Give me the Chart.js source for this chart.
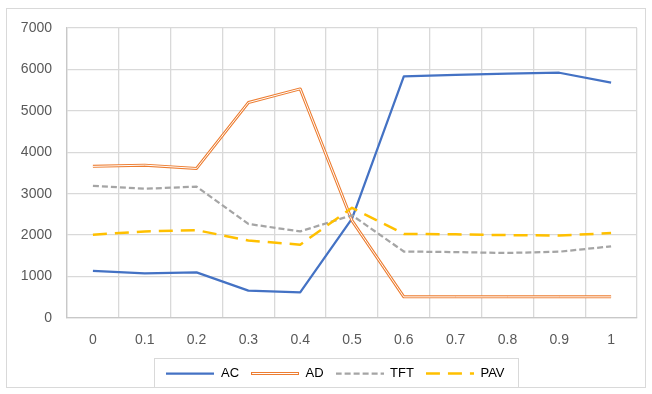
<!DOCTYPE html>
<html>
<head>
<meta charset="utf-8">
<script src="https://cdn.jsdelivr.net/npm/chart.js@4"></script>
<style>
  html, body { margin: 0; padding: 0; background: #fff; }
  #wrap { width: 652px; height: 394px; }
</style>
</head>
<body>
<div id="wrap"><canvas id="chart1" width="652" height="394"></canvas></div>
<script>
const categories = ['0', '0.1', '0.2', '0.3', '0.4', '0.5', '0.6', '0.7', '0.8', '0.9', '1'];
const acValues  = [1140, 1080, 1100, 660, 620, 2400, 5830, 5870, 5900, 5920, 5680];
const adValues  = [3660, 3690, 3610, 5200, 5530, 2350, 510, 510, 510, 510, 510];
const tftValues = [3190, 3120, 3170, 2270, 2090, 2480, 1605, 1590, 1570, 1600, 1730];
const pavValues = [2010, 2090, 2120, 1870, 1770, 2660, 2030, 2020, 2000, 1990, 2050];
const yTicks = [0, 1000, 2000, 3000, 4000, 5000, 6000, 7000];

const FONT = 'Liberation Sans';
const TEXT = '#595959';
const GRID = '#d9d9d9';

// little line samples for the legend
function lineSample(color, width, dash, inner) {
    const c = document.createElement('canvas');
    c.width = 48; c.height = 9;
    const g = c.getContext('2d');
    g.strokeStyle = color;
    g.lineWidth = width;
    g.setLineDash(dash || []);
    g.beginPath(); g.moveTo(0, 4.5); g.lineTo(48, 4.5); g.stroke();
    if (inner) {
        g.strokeStyle = '#fff';
        g.lineWidth = 1;
        g.beginPath(); g.moveTo(1, 4.5); g.lineTo(47, 4.5); g.stroke();
    }
    return c;
}

const legendItems = [
    { text: 'AC',  img: lineSample('#4472C4', 2.25) },
    { text: 'AD',  img: lineSample('#ED7D31', 3, null, true) },
    { text: 'TFT', img: lineSample('#A5A5A5', 2.25, [6, 3]) },
    { text: 'PAV', img: lineSample('#FFC000', 2.5, [14, 8]) }
];

const frame = {
    id: 'frame',
    afterLayout(chart) {
        // nudge the legend a bit to the right, as in the original
        chart.legend.left += 14;
        chart.legend.right += 14;
    },
    beforeDraw(chart) {
        const ctx = chart.ctx;
        ctx.save();
        ctx.strokeStyle = GRID;
        ctx.lineWidth = 1;
        ctx.strokeRect(6.5, 8.5, 639, 379);
        ctx.restore();
    },
    afterDraw(chart) {
        const boxes = chart.legend.legendHitBoxes;
        if (!boxes || !boxes.length) return;
        const x0 = Math.min(...boxes.map(b => b.left)) - 12;
        const x1 = Math.max(...boxes.map(b => b.left + b.width)) + 14;
        const y0 = boxes[0].top - 9;
        const ctx = chart.ctx;
        ctx.save();
        ctx.strokeStyle = GRID;
        ctx.lineWidth = 1;
        ctx.strokeRect(Math.round(x0) + 0.5, Math.round(y0) + 0.5, Math.round(x1 - x0), 29);
        ctx.restore();
    }
};

new Chart(document.getElementById('chart1').getContext('2d'), {
    type: 'line',
    data: {
        labels: categories,
        datasets: [
            { label: 'AC', data: acValues, borderColor: '#4472C4', borderWidth: 2.25, order: 5 },
            { label: 'AD', data: adValues, borderColor: '#ED7D31', borderWidth: 3, order: 4 },
            { label: 'AD inner', data: adValues, borderColor: '#ffffff', borderWidth: 1, order: 3 },
            { label: 'TFT', data: tftValues, borderColor: '#A5A5A5', borderWidth: 2.25, borderDash: [6, 3], order: 2 },
            { label: 'PAV', data: pavValues, borderColor: '#FFC000', borderWidth: 2.5, borderDash: [14, 8], order: 1 }
        ]
    },
    options: {
        responsive: false,
        animation: false,
        elements: {
            point: { radius: 0, hoverRadius: 0 },
            line: { tension: 0, fill: false, borderCapStyle: 'butt', borderJoinStyle: 'round' }
        },
        layout: { padding: { left: 6, right: 15, top: 28, bottom: 4 } },
        scales: {
            x: {
                offset: true,
                grid: { offset: true, color: GRID, lineWidth: 1.3, drawTicks: false },
                border: { color: '#c8c8c8', width: 1.3 },
                ticks: { color: TEXT, font: { family: FONT, size: 14 }, padding: 14, maxRotation: 0 },
                afterFit(s) { s.height = 37; }
            },
            y: {
                min: yTicks[0],
                max: yTicks[yTicks.length - 1],
                grid: { color: GRID, lineWidth: 1.3, drawTicks: false },
                border: { color: '#c8c8c8', width: 1.3 },
                ticks: {
                    stepSize: 1000, color: TEXT, font: { family: FONT, size: 14 }, padding: 15,
                    callback: v => String(v)
                },
                afterFit(s) { s.width = 61; }
            }
        },
        plugins: {
            tooltip: { enabled: false },
            legend: {
                position: 'bottom',
                labels: {
                    color: TEXT,
                    font: { family: FONT, size: 13 },
                    usePointStyle: true,
                    pointStyleWidth: 48,
                    boxHeight: 8,
                    padding: 12,
                    generateLabels() {
                        return legendItems.map(it => ({
                            text: it.text,
                            pointStyle: it.img,
                            fillStyle: 'transparent',
                            strokeStyle: 'transparent',
                            lineWidth: 0,
                            hidden: false
                        }));
                    }
                }
            }
        }
    },
    plugins: [frame]
});
</script>
</body>
</html>
